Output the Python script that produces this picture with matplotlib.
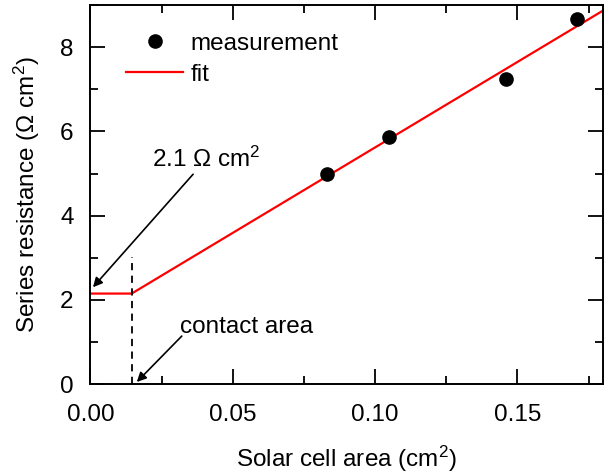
import numpy as np
import matplotlib
matplotlib.use("Agg")
import matplotlib.pyplot as plt
from matplotlib.ticker import MultipleLocator

plt.rcParams['font.family'] = ['Liberation Sans', 'DejaVu Sans']
plt.rcParams['mathtext.fontset'] = 'custom'
plt.rcParams['mathtext.rm'] = 'Liberation Sans'
plt.rcParams['mathtext.it'] = 'Liberation Sans:italic'

# measured points
area = [0.083, 0.105, 0.146, 0.171]
resistance = [4.99, 5.87, 7.25, 8.67]

# fit: constant up to contact area, then linear
contact_area = 0.0145
r_contact = 2.15
slope = 40.6
fit_x = [0.0, contact_area, 0.18]
fit_y = [r_contact, r_contact, r_contact + slope * (0.18 - contact_area)]

fs = 17.5

fig = plt.figure(figsize=(6.12, 4.73), dpi=100)
ax = fig.add_axes([0.1477, 0.188, 0.8373, 0.801])

ax.plot(area, resistance, 'o', color='black', markersize=9.5, label='measurement', zorder=3)
ax.plot(fit_x, fit_y, '-', color='red', lw=1.6, label='fit')
ax.plot([contact_area, contact_area], [0, 3.02], '--', color='black', lw=1.3, dashes=(4, 3))

ax.set_xlim(0, 0.18)
ax.set_ylim(0, 9)
ax.xaxis.set_major_locator(MultipleLocator(0.05))
ax.xaxis.set_minor_locator(MultipleLocator(0.025))
ax.yaxis.set_major_locator(MultipleLocator(2))
ax.yaxis.set_minor_locator(MultipleLocator(1))
ax.xaxis.set_major_formatter(plt.FormatStrFormatter('%.2f'))

ax.tick_params(which='both', direction='in', top=True, right=True, width=1.3, labelsize=fs)
ax.tick_params(which='major', length=11, pad=12)
ax.tick_params(axis='x', which='major', pad=14)
ax.tick_params(which='minor', length=6)
for s in ax.spines.values():
    s.set_linewidth(1.4)

ax.set_xlabel('Solar cell area (cm$^2$)', fontsize=fs, labelpad=13)
ax.set_ylabel('Series resistance ($\\Omega$ cm$^2$)', fontsize=fs, labelpad=13)

ax.annotate('2.1 $\\Omega$ cm$^2$', xy=(0.0009, 2.30), xytext=(0.0218, 5.05),
            fontsize=fs, ha='left', va='bottom',
            arrowprops=dict(arrowstyle='-|>', color='black', lw=1.2,
                            mutation_scale=14, shrinkA=0, shrinkB=0))
ax.annotate('', xy=(0.0163, 0.05), xytext=(0.0321, 1.14),
            arrowprops=dict(arrowstyle='-|>', color='black', lw=1.2,
                            mutation_scale=14, shrinkA=0, shrinkB=0))
ax.text(0.0315, 1.35, 'contact area', fontsize=fs, ha='left', va='center')

ax.legend(loc='upper left', bbox_to_anchor=(0.0695, 0.927), frameon=False,
          fontsize=fs, borderpad=0, borderaxespad=0, handlelength=2.35,
          handletextpad=0.3, labelspacing=0.37)

fig.savefig('out.png', dpi=100)
